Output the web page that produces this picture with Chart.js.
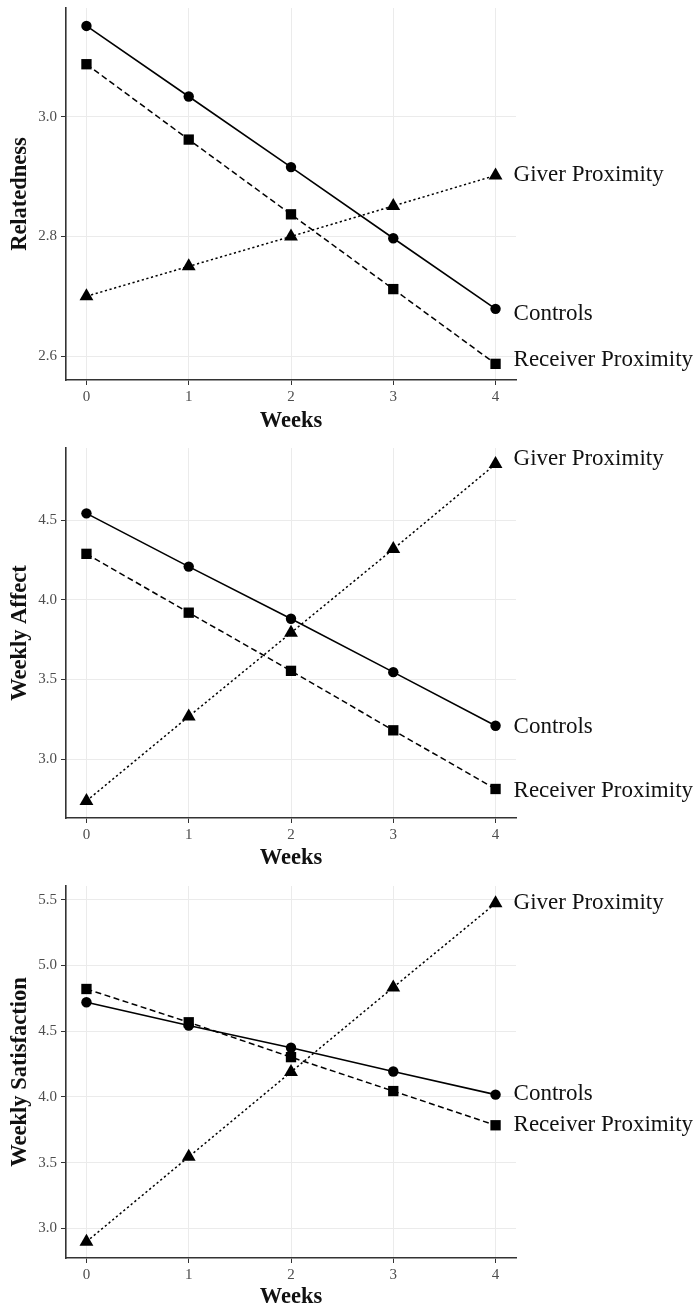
<!DOCTYPE html>
<html>
<head>
<meta charset="utf-8">
<script src="https://cdn.jsdelivr.net/npm/chart.js@4.4.1/dist/chart.umd.min.js"></script>
<style>
  html, body { margin: 0; padding: 0; background: #fff; overflow: hidden; }
  .panel { position: absolute; left: 0; }
</style>
</head>
<body>
<div class="panel" style="top:0px"><canvas id="rel" width="696" height="437"></canvas></div>
<div class="panel" style="top:440px"><canvas id="aff" width="696" height="435"></canvas></div>
<div class="panel" style="top:878px"><canvas id="sat" width="696" height="433"></canvas></div>
<script>
// weeks on the x axis
const weeks = [0, 1, 2, 3, 4];
const xTicks = [0, 1, 2, 3, 4];
const seriesNames = ['Giver Proximity', 'Controls', 'Receiver Proximity'];

// Relatedness
const relGiver = [2.700, 2.750, 2.800, 2.851, 2.902];
const relControls = [3.152, 3.034, 2.916, 2.797, 2.679];
const relReceiver = [3.088, 2.962, 2.837, 2.712, 2.587];
const relTicks = [2.6, 2.8, 3.0];
const relRange = [2.56, 3.182];
const relLabelY = [2.905, 2.672, 2.595];

// Weekly Affect
const affGiver = [2.738, 3.268, 3.793, 4.318, 4.851];
const affControls = [4.542, 4.208, 3.881, 3.546, 3.210];
const affReceiver = [4.288, 3.919, 3.554, 3.181, 2.813];
const affTicks = [3.0, 3.5, 4.0, 4.5];
const affRange = [2.631, 4.952];
const affLabelY = [4.891, 3.210, 2.810];

// Weekly Satisfaction
const satGiver = [2.900, 3.545, 4.190, 4.833, 5.472];
const satControls = [4.720, 4.543, 4.374, 4.194, 4.018];
const satReceiver = [4.821, 4.568, 4.303, 4.045, 3.785];
const satTicks = [3.0, 3.5, 4.0, 4.5, 5.0, 5.5];
const satRange = [2.776, 5.604];
const satLabelY = [5.485, 4.028, 3.798];

const SERIF = '"Liberation Serif", "Times New Roman", serif';

const endLabels = {
  id: 'endLabels',
  afterDraw(chart, args, opts) {
    const ctx = chart.ctx;
    const xs = chart.scales.x, ys = chart.scales.y;
    ctx.save();
    ctx.font = '23px ' + SERIF;
    ctx.fillStyle = '#111';
    ctx.textAlign = 'left';
    ctx.textBaseline = 'middle';
    seriesNames.forEach((name, i) => {
      ctx.fillText(name, xs.getPixelForValue(weeks[weeks.length - 1]) + 18,
        ys.getPixelForValue(opts.labelY[i]) + 1);
    });
    ctx.restore();
  }
};

function makePanel(id, title, giver, controls, receiver, ticks, range, labelY, xHeight, xTitlePad) {
  const pts = vals => weeks.map((w, i) => ({ x: w, y: vals[i] }));
  new Chart(document.getElementById(id), {
    type: 'line',
    data: {
      datasets: [
        {
          label: seriesNames[0], data: pts(giver),
          borderColor: '#000', borderWidth: 1.5, borderDash: [2.2, 2.6],
          pointStyle: 'triangle', pointRadius: 8, pointBackgroundColor: '#000', pointBorderWidth: 0
        },
        {
          label: seriesNames[1], data: pts(controls),
          borderColor: '#000', borderWidth: 1.6,
          pointStyle: 'circle', pointRadius: 5.2, pointBackgroundColor: '#000', pointBorderWidth: 0
        },
        {
          label: seriesNames[2], data: pts(receiver),
          borderColor: '#000', borderWidth: 1.5, borderDash: [6, 3.5],
          pointStyle: 'rect', pointRadius: 7.3, pointBackgroundColor: '#000', pointBorderWidth: 0
        }
      ]
    },
    options: {
      responsive: false,
      animation: false,
      layout: { padding: { top: 7, left: 0, right: 180, bottom: 0 } },
      plugins: {
        legend: { display: false },
        tooltip: { enabled: false },
        endLabels: { labelY: labelY }
      },
      scales: {
        x: {
          type: 'linear', min: -0.2, max: 4.2,
          afterBuildTicks: s => { s.ticks = xTicks.map(v => ({ value: v })); },
          afterFit: s => { s.height = xHeight; s.paddingLeft = 0; s.paddingRight = 0; },
          grid: { color: '#ebebeb', lineWidth: 1, tickColor: '#333', tickLength: 5 },
          border: { color: '#333', width: 1.6 },
          ticks: { color: '#4d4d4d', font: { family: SERIF, size: 15 }, padding: 3, maxRotation: 0, autoSkip: false },
          title: { display: true, text: 'Weeks', color: '#111', font: { family: SERIF, size: 22.5, weight: 'bold' }, padding: { top: 0, bottom: xTitlePad } }
        },
        y: {
          type: 'linear', min: range[0], max: range[1],
          afterBuildTicks: s => { s.ticks = ticks.map(v => ({ value: v })); },
          afterFit: s => { s.width = 66; s.paddingTop = 0; s.paddingBottom = 0; },
          grid: { color: '#ebebeb', lineWidth: 1, tickColor: '#333', tickLength: 5 },
          border: { color: '#333', width: 1.6 },
          ticks: { color: '#4d4d4d', font: { family: SERIF, size: 15 }, padding: 4, callback: v => v.toFixed(1) },
          title: { display: true, text: title, color: '#111', font: { family: SERIF, size: 22.5, weight: 'bold' }, padding: { top: 6.5, bottom: 0 } }
        }
      }
    },
    plugins: [endLabels]
  });
}

makePanel('rel', 'Relatedness', relGiver, relControls, relReceiver, relTicks, relRange, relLabelY, 57, 2.8);
makePanel('aff', 'Weekly Affect', affGiver, affControls, affReceiver, affTicks, affRange, affLabelY, 57, 3.5);
makePanel('sat', 'Weekly Satisfaction', satGiver, satControls, satReceiver, satTicks, satRange, satLabelY, 53, 0.8);
</script>
</body>
</html>
